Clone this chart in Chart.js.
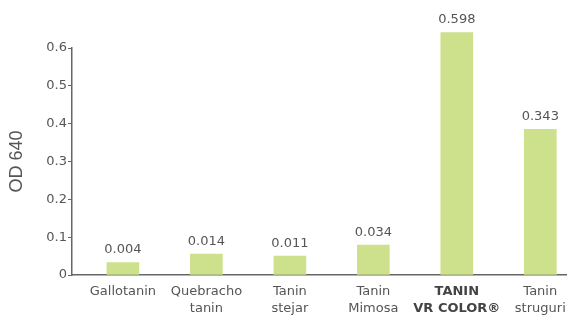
<!DOCTYPE html>
<html>
<head>
<meta charset="utf-8">
<script src="https://cdn.jsdelivr.net/npm/chart.js@4"></script>
<style>
  body { margin: 0; background: #fff; overflow: hidden; }
</style>
</head>
<body>
<canvas id="grafica" width="567" height="316"></canvas>
<script>
// datos
const categorias = [
    ['Gallotanin'],
    ['Quebracho', 'tanin'],
    ['Tanin', 'stejar'],
    ['Tanin', 'Mimosa'],
    ['TANIN', 'VR COLOR®'],
    ['Tanin', 'struguri']
];
const valores = [0.033, 0.055, 0.050, 0.079, 0.641, 0.385];
const etiquetas = ['0.004', '0.014', '0.011', '0.034', '0.598', '0.343'];
const ticksY = [0, 0.1, 0.2, 0.3, 0.4, 0.5, 0.6];

const verde = '#cde08b';
const gris = '#555555';
const fuente = 'DejaVu Sans';

// etiquetas encima de las barras
const etiquetasPlugin = {
    id: 'etiquetas',
    afterDatasetsDraw(chart) {
        const ctx = chart.ctx;
        const meta = chart.getDatasetMeta(0);
        ctx.save();
        ctx.font = '13px "' + fuente + '"';
        ctx.fillStyle = gris;
        ctx.textAlign = 'center';
        ctx.textBaseline = 'bottom';
        meta.data.forEach(function (bar, i) {
            ctx.fillText(etiquetas[i], bar.x, bar.y - 6);
        });
        ctx.restore();
    }
};

const ctx = document.getElementById('grafica').getContext('2d');
const myChart = new Chart(ctx, {
    type: 'bar',
    data: {
        datasets: [{
            data: valores.map(function (v, i) { return { x: i, y: v }; }),
            backgroundColor: verde,
            borderWidth: 0,
            barThickness: 32,
            clip: false
        }]
    },
    options: {
        responsive: false,
        animation: false,
        layout: { padding: { top: 48, right: 0, left: 0, bottom: 0 } },
        plugins: {
            legend: { display: false },
            tooltip: { enabled: false }
        },
        scales: {
            x: {
                type: 'linear',
                offset: false,
                min: -0.61,
                max: 5.32,
                afterFit: function (s) {
                    s.height = 41;
                    s.paddingLeft = 0;
                    s.paddingRight = 0;
                },
                grid: { display: false, drawTicks: false },
                border: { display: true, color: '#666', width: 1.5 },
                ticks: {
                    stepSize: 1,
                    includeBounds: false,
                    autoSkip: false,
                    maxRotation: 0,
                    padding: 8,
                    color: function (c) { return c.tick && c.tick.value === 4 ? '#444' : gris; },
                    font: function (c) {
                        return {
                            family: fuente,
                            size: 13,
                            lineHeight: 1.3,
                            weight: c.tick && c.tick.value === 4 ? 'bold' : 'normal'
                        };
                    },
                    callback: function (v) {
                        return Number.isInteger(v) && categorias[v] ? categorias[v] : '';
                    }
                }
            },
            y: {
                min: 0,
                max: 0.6,
                afterFit: function (s) { s.width = 72; },
                afterBuildTicks: function (s) {
                    s.ticks = ticksY.map(function (v) { return { value: v }; });
                },
                grid: { drawOnChartArea: false, tickLength: 4, color: '#666' },
                border: { display: true, color: '#666', width: 1.5 },
                title: {
                    display: true,
                    text: 'OD 640',
                    color: gris,
                    font: { family: 'Liberation Sans', size: 18 },
                    padding: { top: 6, bottom: 0 }
                },
                ticks: {
                    padding: 1,
                    color: gris,
                    font: { family: fuente, size: 13 },
                    callback: function (v) { return v === 0 ? '0' : v.toFixed(1); }
                }
            }
        }
    },
    plugins: [etiquetasPlugin]
});
</script>
</body>
</html>
